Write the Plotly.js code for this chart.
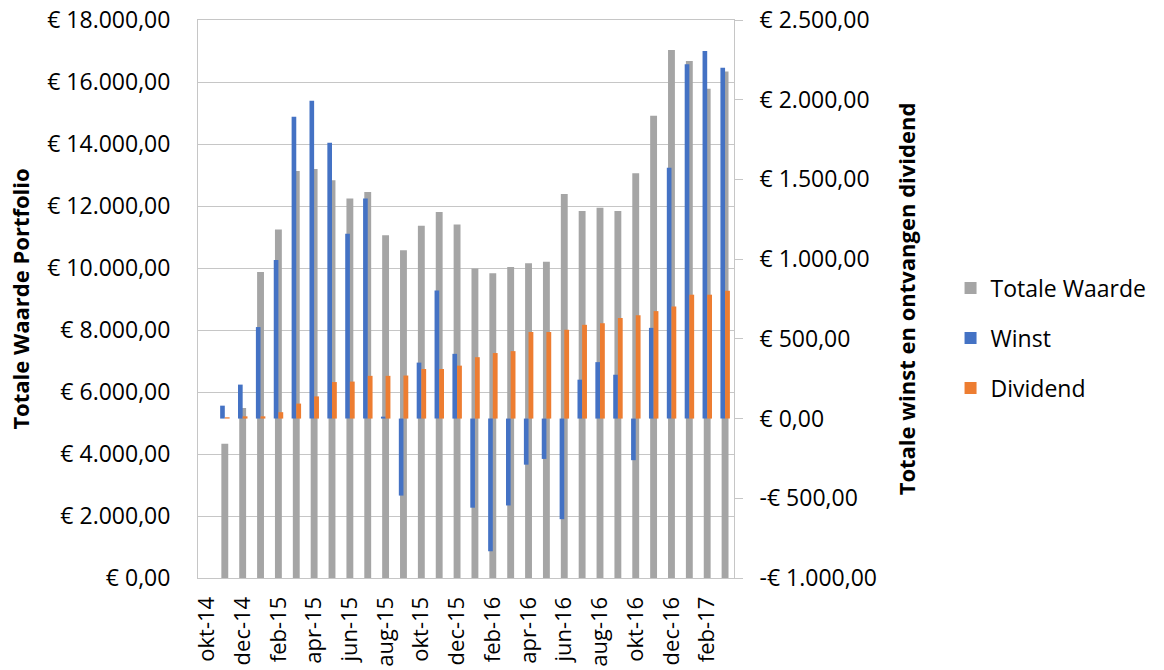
<!DOCTYPE html>
<html><head><meta charset="utf-8">
<script src="https://cdn.plot.ly/plotly-3.0.1.min.js"></script>
<style>html,body{margin:0;padding:0;background:#fff}#chart{width:1164px;height:670px}</style>
</head><body><div id="chart"></div>
<script>
const months = ['okt-14','nov-14','dec-14','jan-15','feb-15','mrt-15','apr-15','mei-15','jun-15','jul-15','aug-15','sep-15','okt-15','nov-15','dec-15','jan-16','feb-16','mrt-16','apr-16','mei-16','jun-16','jul-16','aug-16','sep-16','okt-16','nov-16','dec-16','jan-17','feb-17','mrt-17'];
const totaleWaarde = [null,4330,5480,9870,11240,13130,13190,12830,12240,12450,11060,10570,11360,11810,11400,9980,9830,10030,10150,10200,12390,11840,11940,11840,13060,14910,17030,16680,15780,16340];
const winst = [null,81,213,574,994,1893,1993,1730,1159,1381,12,-483,351,803,406,-559,-832,-545,-289,-253,-631,244,354,275,-261,569,1573,2223,2306,2201];
const dividend = [null,8,14,14,40,94,139,229,232,268,268,270,311,311,332,385,411,423,543,543,557,588,598,631,648,674,703,777,777,801];
const leftTickVals = [0,2000,4000,6000,8000,10000,12000,14000,16000,18000];
const leftTickText = ['€ 0,00','€ 2.000,00','€ 4.000,00','€ 6.000,00','€ 8.000,00','€ 10.000,00','€ 12.000,00','€ 14.000,00','€ 16.000,00','€ 18.000,00'];
const rightTickVals = [-1000,-500,0,500,1000,1500,2000,2500];
const rightTickText = ['-€ 1.000,00','-€ 500,00','€ 0,00','€ 500,00','€ 1.000,00','€ 1.500,00','€ 2.000,00','€ 2.500,00'];
const xTickLabels = months.filter((m, i) => i % 2 === 0);

const FONT = "'Open Sans', 'Noto Sans', sans-serif";
const GRID = '#c6c6c6';
const TICKSIZE = 23;

const traces = [
  {type:'bar', name:'Totale Waarde', x:months, y:totaleWaarde, yaxis:'y', width:0.385, offset:-0.1925,
   marker:{color:'#A5A5A5'}, legendgroup:'a'},
  {type:'bar', name:'Winst', x:months, y:winst, yaxis:'y2', width:0.26, offset:-0.26,
   marker:{color:'#4472C4'}, legendgroup:'b'},
  {type:'bar', name:'Dividend', x:months, y:dividend, yaxis:'y2', width:0.27, offset:0,
   marker:{color:'#ED7D31'}, legendgroup:'c'}
];

const layout = {
  width:1164, height:670,
  margin:{l:198, r:424, t:20, b:92},
  paper_bgcolor:'#fff', plot_bgcolor:'#fff',
  font:{family:FONT, size:TICKSIZE, color:'#000'},
  barmode:'overlay',
  showlegend:true,
  legend:{x:1.404, y:0.558, xanchor:'left', yanchor:'top', traceorder:'grouped', tracegroupgap:17,
          font:{family:FONT, size:TICKSIZE, color:'#000'}, bgcolor:'rgba(0,0,0,0)'},
  xaxis:{type:'category', categoryorder:'array', categoryarray:months,
         tickmode:'array', tickvals:xTickLabels, ticktext:xTickLabels,
         tickangle:-90, ticks:'', showline:true, mirror:true, linecolor:GRID, linewidth:1,
         showgrid:false, zeroline:false, ticklabelstandoff:9,
         tickfont:{family:FONT, size:22, color:'#000'}},
  yaxis:{range:[0,18000], tickmode:'array', tickvals:leftTickVals, ticktext:leftTickText,
         showgrid:true, gridcolor:GRID, gridwidth:1, zeroline:false,
         showline:true, linecolor:GRID, linewidth:1, ticks:'', ticklabelstandoff:22,
         tickfont:{family:FONT, size:TICKSIZE, color:'#000'},
         title:{text:'Totale Waarde Portfolio', font:{family:FONT, size:22, color:'#000', weight:'bold'}, standoff:11}},
  yaxis2:{range:[-1000,2500], overlaying:'y', side:'right', tickmode:'array', tickvals:rightTickVals, ticktext:rightTickText,
          showgrid:false, zeroline:false, showline:true, linecolor:GRID, linewidth:1,
          ticks:'outside', ticklen:8, tickcolor:GRID, tickwidth:1, ticklabelstandoff:12,
          tickfont:{family:FONT, size:TICKSIZE, color:'#000'},
          title:{text:'Totale winst en ontvangen dividend', font:{family:FONT, size:22, color:'#000', weight:'bold'}, standoff:23}}
};

Plotly.newPlot('chart', traces, layout, {displayModeBar:false, staticPlot:true});
</script>
</body></html>
